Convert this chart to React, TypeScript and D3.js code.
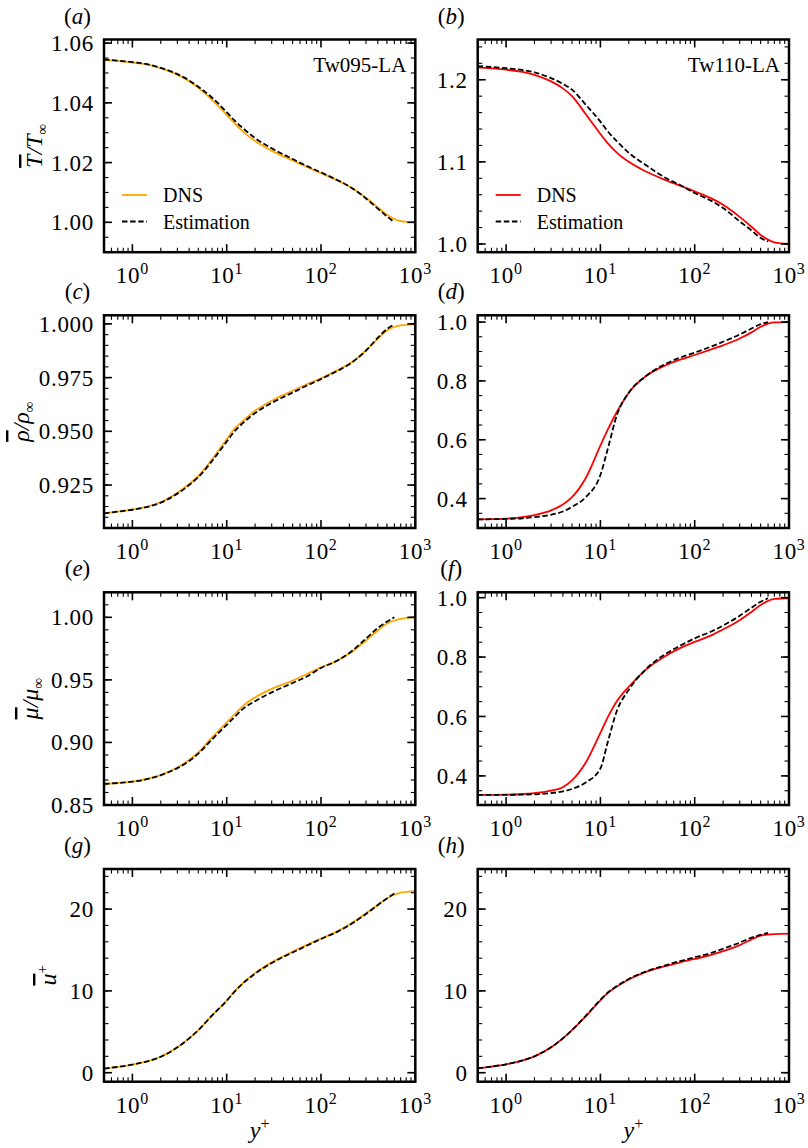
import React from 'react';
import * as d3 from 'd3';

// ---------- data ----------
const yPlusDNS = [0.5, 0.7, 1, 1.5, 2, 3, 4, 5, 7, 10, 12, 15, 20, 30, 50, 70, 100, 150, 200, 300, 400, 500, 700, 1000];
const yPlusEst = [0.5, 0.7, 1, 1.5, 2, 3, 4, 5, 7, 10, 12, 15, 20, 30, 50, 70, 100, 150, 200, 300, 400, 500, 600];

// (a) Tw095-LA temperature
const tempDNS095 = [1.0544, 1.0540, 1.0535, 1.0527, 1.0516, 1.0494, 1.0472, 1.0450, 1.0410, 1.0360, 1.0333, 1.0303, 1.0272, 1.0240, 1.0207, 1.0186, 1.0165, 1.0140, 1.0120, 1.0082, 1.0050, 1.0025, 1.0004, 1.0000];
const tempEst095 = [1.0545, 1.0541, 1.0536, 1.0528, 1.0517, 1.0496, 1.0475, 1.0454, 1.0417, 1.0369, 1.0342, 1.0314, 1.0282, 1.0248, 1.0212, 1.0189, 1.0167, 1.0141, 1.0120, 1.0080, 1.0046, 1.0020, 1.0000];
// (b) Tw110-LA temperature
const tempDNS110 = [1.2150, 1.2138, 1.2122, 1.2095, 1.2060, 1.1980, 1.1895, 1.1800, 1.1580, 1.1340, 1.1225, 1.1110, 1.1000, 1.0885, 1.0775, 1.0710, 1.0640, 1.0555, 1.0478, 1.0330, 1.0210, 1.0110, 1.0020, 1.0000];
const tempEst110 = [1.2165, 1.2155, 1.2140, 1.2118, 1.2090, 1.2020, 1.1950, 1.1880, 1.1696, 1.1490, 1.1370, 1.1250, 1.1110, 1.0965, 1.0800, 1.0718, 1.0620, 1.0525, 1.0438, 1.0275, 1.0165, 1.0073, 1.0030];
// (c) density 095
const rhoDNS095 = [0.9118, 0.9126, 0.9136, 0.9152, 0.9170, 0.9214, 0.9255, 0.9292, 0.9370, 0.9463, 0.9510, 0.9550, 0.9596, 0.9642, 0.9689, 0.9718, 0.9747, 0.9785, 0.9814, 0.9876, 0.9930, 0.9969, 0.9993, 0.9998];
const rhoEst095 = [0.9118, 0.9126, 0.9135, 0.9150, 0.9168, 0.9210, 0.9250, 0.9287, 0.9362, 0.9452, 0.9498, 0.9540, 0.9585, 0.9632, 0.9680, 0.9712, 0.9743, 0.9782, 0.9812, 0.9876, 0.9935, 0.9976, 0.9998];
// (d) density 110
const rhoDNS110 = [0.329, 0.330, 0.332, 0.337, 0.344, 0.360, 0.380, 0.405, 0.470, 0.580, 0.635, 0.695, 0.760, 0.815, 0.854, 0.872, 0.888, 0.907, 0.921, 0.944, 0.965, 0.984, 0.999, 1.000];
const rhoEst110 = [0.329, 0.330, 0.331, 0.333, 0.337, 0.345, 0.356, 0.372, 0.405, 0.480, 0.570, 0.685, 0.760, 0.815, 0.859, 0.879, 0.896, 0.917, 0.933, 0.958, 0.978, 0.993, 1.000];
// (e) viscosity 095
const muDNS095 = [0.8668, 0.8676, 0.8686, 0.8712, 0.8740, 0.8800, 0.8860, 0.8920, 0.9040, 0.9160, 0.9220, 0.9294, 0.9360, 0.9428, 0.9494, 0.9545, 0.9600, 0.9655, 0.9710, 0.9815, 0.9895, 0.9950, 0.9988, 1.0000];
const muEst095 = [0.8668, 0.8676, 0.8686, 0.8710, 0.8738, 0.8795, 0.8852, 0.8910, 0.9025, 0.9140, 0.9200, 0.9270, 0.9330, 0.9400, 0.9475, 0.9525, 0.9595, 0.9655, 0.9715, 0.9830, 0.9915, 0.9965, 1.0000];
// (f) viscosity 110
const muDNS110 = [0.336, 0.336, 0.337, 0.339, 0.342, 0.350, 0.362, 0.385, 0.445, 0.545, 0.598, 0.652, 0.700, 0.756, 0.805, 0.830, 0.851, 0.873, 0.893, 0.924, 0.952, 0.975, 0.996, 0.998];
const muEst110 = [0.336, 0.336, 0.336, 0.337, 0.338, 0.342, 0.348, 0.356, 0.378, 0.425, 0.515, 0.620, 0.690, 0.757, 0.812, 0.838, 0.863, 0.886, 0.906, 0.939, 0.966, 0.986, 0.998];
// (g) velocity 095
const uDNS095 = [0.5, 0.7, 1.0, 1.45, 1.95, 3.1, 4.2, 5.2, 7.0, 8.8, 9.9, 11.0, 12.2, 13.5, 14.8, 15.6, 16.4, 17.3, 18.1, 19.5, 20.5, 21.3, 22.0, 22.2];
const uEst095 = [0.5, 0.7, 1.0, 1.45, 1.95, 3.1, 4.2, 5.2, 7.0, 8.8, 9.85, 10.95, 12.1, 13.4, 14.7, 15.5, 16.35, 17.25, 18.05, 19.4, 20.5, 21.3, 21.9];
// (h) velocity 110
const uDNS110 = [0.54, 0.75, 1.03, 1.5, 2.0, 3.1, 4.2, 5.2, 6.9, 8.85, 9.75, 10.55, 11.4, 12.3, 13.05, 13.5, 13.9, 14.4, 14.85, 15.6, 16.3, 16.75, 16.95, 17.0];
const uEst110 = [0.54, 0.75, 1.03, 1.5, 2.0, 3.1, 4.2, 5.2, 6.95, 8.9, 9.8, 10.6, 11.45, 12.35, 13.15, 13.65, 14.1, 14.65, 15.15, 15.9, 16.5, 16.85, 17.1];

const xMajorTicks = [1, 10, 100, 1000];
const xTickExponents = ['0', '1', '2', '3'];

const tempTicks095 = [1.0, 1.02, 1.04, 1.06];
const tempLabels095 = ['1.00', '1.02', '1.04', '1.06'];
const tempTicks110 = [1.0, 1.1, 1.2];
const tempLabels110 = ['1.0', '1.1', '1.2'];
const rhoTicks095 = [0.925, 0.95, 0.975, 1.0];
const rhoLabels095 = ['0.925', '0.950', '0.975', '1.000'];
const ratioTicks110 = [0.4, 0.6, 0.8, 1.0];
const ratioLabels110 = ['0.4', '0.6', '0.8', '1.0'];
const muTicks095 = [0.85, 0.9, 0.95, 1.0];
const muLabels095 = ['0.85', '0.90', '0.95', '1.00'];
const uTicks = [0, 10, 20];
const uLabels = ['0', '10', '20'];

// ---------- layout ----------
const W = 808;
const H = 1148;
const colLeft = [104, 477.7];
const panelW = 311.3;
const rowTop = [39.5, 315.3, 592.3, 869];
const panelH = 212.7;
const FONT = 'Liberation Serif, DejaVu Serif, serif';
const ORANGE = '#FFA500';
const RED = '#FF0000';

type Panel = {
  tag: string; col: number; row: number;
  domain: [number, number]; ticks: number[]; labels: string[]; minor: number;
  dns: number[]; est: number[]; color: string;
  ylabel?: 'T' | 'rho' | 'mu' | 'u'; ylabelX?: number; case?: string; legend?: boolean; xlabel?: boolean;
};

const panels: Panel[] = [
  { tag: 'a', col: 0, row: 0, domain: [0.99, 1.0612], ticks: tempTicks095, labels: tempLabels095, minor: 0.005, dns: tempDNS095, est: tempEst095, color: ORANGE, ylabel: 'T', ylabelX: 42, case: 'Tw095-LA', legend: true },
  { tag: 'b', col: 1, row: 0, domain: [0.99, 1.249], ticks: tempTicks110, labels: tempLabels110, minor: 0.02, dns: tempDNS110, est: tempEst110, color: RED, case: 'Tw110-LA', legend: true },
  { tag: 'c', col: 0, row: 1, domain: [0.905, 1.004], ticks: rhoTicks095, labels: rhoLabels095, minor: 0.005, dns: rhoDNS095, est: rhoEst095, color: ORANGE, ylabel: 'rho', ylabelX: 29 },
  { tag: 'd', col: 1, row: 1, domain: [0.30, 1.023], ticks: ratioTicks110, labels: ratioLabels110, minor: 0.05, dns: rhoDNS110, est: rhoEst110, color: RED },
  { tag: 'e', col: 0, row: 2, domain: [0.85, 1.02], ticks: muTicks095, labels: muLabels095, minor: 0.01, dns: muDNS095, est: muEst095, color: ORANGE, ylabel: 'mu', ylabelX: 38 },
  { tag: 'f', col: 1, row: 2, domain: [0.302, 1.018], ticks: ratioTicks110, labels: ratioLabels110, minor: 0.05, dns: muDNS110, est: muEst110, color: RED },
  { tag: 'g', col: 0, row: 3, domain: [-1.1, 24.9], ticks: uTicks, labels: uLabels, minor: 2, dns: uDNS095, est: uEst095, color: ORANGE, ylabel: 'u', ylabelX: 56, xlabel: true },
  { tag: 'h', col: 1, row: 3, domain: [-1.1, 24.9], ticks: uTicks, labels: uLabels, minor: 2, dns: uDNS110, est: uEst110, color: RED, xlabel: true },
];

function xMinorTicks(): number[] {
  const out: number[] = [];
  for (let e = -1; e <= 2; e++) {
    for (let m = 2; m <= 9; m++) {
      const v = m * Math.pow(10, e);
      if (v >= 0.5 && v <= 1000) out.push(v);
    }
  }
  return out;
}

function yMinorTicks(domain: [number, number], step: number): number[] {
  const out: number[] = [];
  const k0 = Math.ceil(domain[0] / step - 1e-9);
  const k1 = Math.floor(domain[1] / step + 1e-9);
  for (let k = k0; k <= k1; k++) out.push(+(k * step).toFixed(6));
  return out;
}

const txt = { fontFamily: FONT };
const tickTxt = { fontFamily: FONT, letterSpacing: '0.7px' };

function YLabel({ kind, x, cy }: { kind: string; x: number; cy: number }) {
  const sub = (s: string) => <tspan dy={5} fontSize={15} fontStyle="normal">{s}</tspan>;
  const ov = { textDecoration: 'overline' };
  let content: React.ReactNode = null;
  if (kind === 'T') content = (<><tspan style={ov}>T</tspan>/T{sub('∞')}</>);
  if (kind === 'rho') content = (<><tspan style={ov}>ρ</tspan>/ρ{sub('∞')}</>);
  if (kind === 'mu') content = (<><tspan style={ov}>μ</tspan>/μ{sub('∞')}</>);
  if (kind === 'u') content = (<><tspan style={ov}>u</tspan><tspan dy={-9} fontSize={15} fontStyle="normal">+</tspan></>);
  return (
    <text transform={`translate(${x},${cy}) rotate(-90)`} textAnchor="middle" fontSize={24} fontStyle="italic" style={txt} fill="#000">
      {content}
    </text>
  );
}

function PanelView({ p }: { p: Panel }) {
  const left = colLeft[p.col];
  const top = rowTop[p.row];
  const right = left + panelW;
  const bottom = top + panelH;
  const x = d3.scaleLog().domain([0.5, 1000]).range([left, right]);
  const y = d3.scaleLinear().domain(p.domain).range([bottom, top]);

  const lineDNS = d3.line<number>().x((_, i) => x(yPlusDNS[i])).y((d) => y(d)).curve(d3.curveMonotoneX);
  const lineEst = d3.line<number>().x((_, i) => x(yPlusEst[i])).y((d) => y(d)).curve(d3.curveMonotoneX);

  const majL = 8, minL = 4.5;
  const xMin = xMinorTicks();
  const yMin = yMinorTicks(p.domain, p.minor);

  return (
    <g>
      <defs>
        <clipPath id={`clip-${p.tag}`}>
          <rect x={left} y={top} width={panelW} height={panelH} />
        </clipPath>
      </defs>
      <g clipPath={`url(#clip-${p.tag})`}>
        <path d={lineDNS(p.dns) || ''} fill="none" stroke={p.color} strokeWidth={1.8} />
        <path d={lineEst(p.est) || ''} fill="none" stroke="#000" strokeWidth={1.8} strokeDasharray="5.5 2.6" />
      </g>
      {xMin.map((v) => (
        <g key={`xm${v}`} stroke="#000" strokeWidth={1.1}>
          <line x1={x(v)} x2={x(v)} y1={bottom} y2={bottom - minL} />
          <line x1={x(v)} x2={x(v)} y1={top} y2={top + minL} />
        </g>
      ))}
      {xMajorTicks.map((v) => (
        <g key={`xM${v}`} stroke="#000" strokeWidth={1.6}>
          <line x1={x(v)} x2={x(v)} y1={bottom} y2={bottom - majL} />
          <line x1={x(v)} x2={x(v)} y1={top} y2={top + majL} />
        </g>
      ))}
      {xMajorTicks.map((v, i) => (
        <text key={`xl${v}`} x={x(v)} y={bottom + 31} textAnchor="middle" fontSize={23} style={tickTxt} fill="#000">
          10<tspan dy={-9} fontSize={16}>{xTickExponents[i]}</tspan>
        </text>
      ))}
      {yMin.map((v) => (
        <g key={`ym${v}`} stroke="#000" strokeWidth={1.1}>
          <line x1={left} x2={left + minL} y1={y(v)} y2={y(v)} />
          <line x1={right} x2={right - minL} y1={y(v)} y2={y(v)} />
        </g>
      ))}
      {p.ticks.map((v) => (
        <g key={`yM${v}`} stroke="#000" strokeWidth={1.6}>
          <line x1={left} x2={left + majL} y1={y(v)} y2={y(v)} />
          <line x1={right} x2={right - majL} y1={y(v)} y2={y(v)} />
        </g>
      ))}
      {p.ticks.map((v, i) => (
        <text key={`yl${v}`} x={left - 10} y={y(v)} dy="0.35em" textAnchor="end" fontSize={23} style={tickTxt} fill="#000">
          {p.labels[i]}
        </text>
      ))}
      <rect x={left} y={top} width={panelW} height={panelH} fill="none" stroke="#000" strokeWidth={2.5} />
      <text x={left - 26.5} y={top - 16} textAnchor="middle" fontSize={23} style={txt} fill="#000">
        (<tspan fontStyle="italic">{p.tag}</tspan>)
      </text>
      {p.case && (
        <text x={right - 9} y={top + 32.5} textAnchor="end" fontSize={21} style={txt} fill="#000">{p.case}</text>
      )}
      {p.legend && (
        <g>
          <line x1={left + 18} x2={left + 43} y1={top + 155.5} y2={top + 155.5} stroke={p.color} strokeWidth={1.8} />
          <text x={left + 59} y={top + 155.5} dy="0.35em" fontSize={20} style={txt} fill="#000">DNS</text>
          <line x1={left + 18} x2={left + 43} y1={top + 182} y2={top + 182} stroke="#000" strokeWidth={1.8} strokeDasharray="5.5 2.6" />
          <text x={left + 59} y={top + 182} dy="0.35em" fontSize={20} style={txt} fill="#000">Estimation</text>
        </g>
      )}
      {p.ylabel && <YLabel kind={p.ylabel} x={p.ylabelX || 40} cy={(top + bottom) / 2} />}
      {p.xlabel && (
        <text x={(left + right) / 2} y={bottom + 56} textAnchor="middle" fontSize={24} style={txt} fill="#000">
          <tspan fontStyle="italic">y</tspan><tspan dy={-9} fontSize={16}>+</tspan>
        </text>
      )}
    </g>
  );
}

export default function App() {
  return (
    <svg width={W} height={H} viewBox={`0 0 ${W} ${H}`} style={{ position: 'absolute', left: 0, top: 0, background: '#fff' }}>
      <rect x={0} y={0} width={W} height={H} fill="#fff" />
      {panels.map((p) => <PanelView key={p.tag} p={p} />)}
    </svg>
  );
}
